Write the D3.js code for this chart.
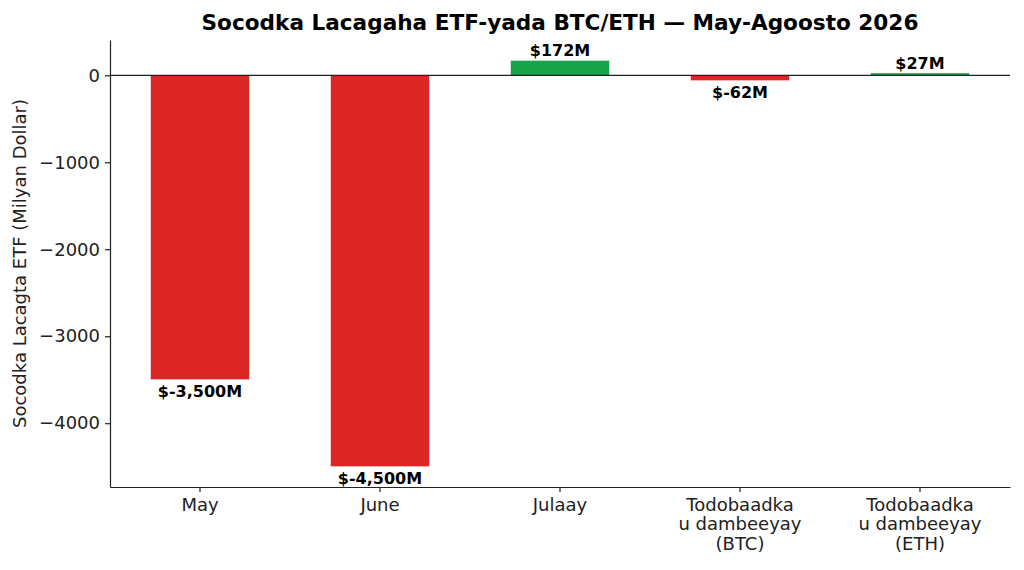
<!DOCTYPE html>
<html>
<head>
<meta charset="utf-8">
<script src="https://cdn.jsdelivr.net/npm/d3@7"></script>
<style>
  body { margin: 0; background: #fff; }
  svg text { font-family: "DejaVu Sans", sans-serif; }
</style>
</head>
<body>
<svg id="chart"></svg>
<script>
// Chart data
const categories = ["May", "June", "Julaay", "Todobaadka\nu dambeeyay\n(BTC)", "Todobaadka\nu dambeeyay\n(ETH)"];
const flows = [-3500, -4500, 172, -62, 27];
const valueLabels = ["$-3,500M", "$-4,500M", "$172M", "$-62M", "$27M"];
const yTicks = [0, -1000, -2000, -3000, -4000];

const width = 1024;
const height = 570;
const margin = {top: 40, right: 14, bottom: 83, left: 110};

const svg = d3.select("#chart")
	.attr("width", width)
	.attr("height", height);

// Scales (matplotlib-style 5% margins)
const yMin = d3.min(flows), yMax = d3.max(flows);
const pad = (yMax - yMin) * 0.05;
const y = d3.scaleLinear()
	.domain([yMin - pad, yMax + pad])
	.range([height - margin.bottom, margin.top]);

const x = d3.scaleBand()
	.domain(categories)
	.range([margin.left, width - margin.right])
	.paddingInner(0.45)
	.paddingOuter(0.225);

// Bars
svg.selectAll(".bar")
	.data(flows)
	.enter()
	.append("rect")
	.attr("class", "bar")
	.attr("x", (d, i) => x(categories[i]))
	.attr("width", x.bandwidth())
	.attr("y", d => y(Math.max(0, d)))
	.attr("height", d => Math.abs(y(d) - y(0)))
	.attr("fill", d => d >= 0 ? "#16a34a" : "#dc2626")
	.attr("stroke", "#fff")
	.attr("stroke-width", 0.5);

// Zero line
svg.append("line")
	.attr("x1", margin.left)
	.attr("x2", width - margin.right)
	.attr("y1", y(0))
	.attr("y2", y(0))
	.attr("stroke", "#222")
	.attr("stroke-width", 1.2);

// Value labels
svg.selectAll(".val")
	.data(flows)
	.enter()
	.append("text")
	.attr("class", "val")
	.attr("x", (d, i) => x(categories[i]) + x.bandwidth() / 2)
	.attr("y", d => d >= 0 ? y(d) - 4 : y(d) + 17)
	.attr("text-anchor", "middle")
	.style("font-size", "16px")
	.style("font-weight", "bold")
	.style("fill", "#000")
	.text((d, i) => valueLabels[i]);

// Y axis
const yAxis = svg.append("g")
	.attr("transform", `translate(${margin.left},0)`)
	.call(d3.axisLeft(y).tickValues(yTicks).tickSize(5).tickSizeOuter(0).tickPadding(5));
yAxis.select(".domain").attr("stroke", "#222").attr("stroke-width", 1.2);
yAxis.selectAll(".tick line").attr("stroke", "#222").attr("stroke-width", 1.2);
yAxis.selectAll(".tick text")
	.style("font-size", "18px")
	.style("fill", "#222")
	.text(d => d3.format("d")(d).replace("-", "\u2212"));

// X axis
const xAxis = svg.append("g")
	.attr("transform", `translate(0,${height - margin.bottom})`)
	.call(d3.axisBottom(x).tickSize(5).tickPadding(6).tickSizeOuter(0));
xAxis.select(".domain").attr("stroke", "#222").attr("stroke-width", 1.2);
xAxis.selectAll(".tick line").attr("stroke", "#222").attr("stroke-width", 1.2);
xAxis.selectAll(".tick text").each(function(d) {
	const t = d3.select(this).text("").style("font-size", "18px").style("fill", "#222");
	d.split("\n").forEach((line, i) => {
		t.append("tspan")
			.attr("x", 0)
			.attr("dy", i === 0 ? "0.71em" : "1.08em")
			.text(line);
	});
});

// Y axis label
svg.append("text")
	.attr("transform", `translate(26,${(margin.top + height - margin.bottom) / 2}) rotate(-90)`)
	.attr("text-anchor", "middle")
	.style("font-size", "18px")
	.style("fill", "#222")
	.text("Socodka Lacagta ETF (Milyan Dollar)");

// Title
svg.append("text")
	.attr("x", (margin.left + width - margin.right) / 2)
	.attr("y", 30)
	.attr("text-anchor", "middle")
	.style("font-size", "21.6px")
	.style("font-weight", "bold")
	.style("fill", "#000")
	.text("Socodka Lacagaha ETF-yada BTC/ETH — May-Agoosto 2026");
</script>
</body>
</html>
